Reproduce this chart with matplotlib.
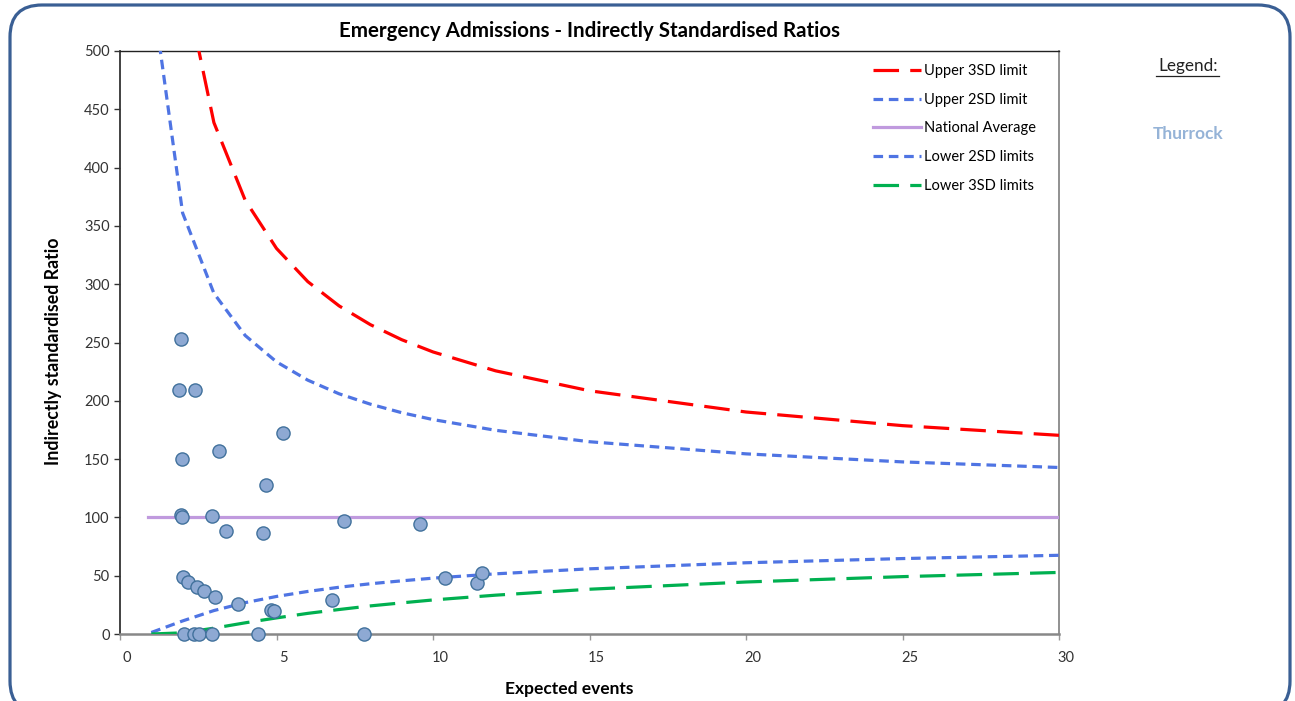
import matplotlib
matplotlib.use("Agg")
import matplotlib.pyplot as plt
import matplotlib.patches as mpatches
from matplotlib.transforms import IdentityTransform, ScaledTranslation

plt.rcParams['font.family'] = ['Lato', 'DejaVu Sans']

# expected events at which the control limits were evaluated
limit_x = [1, 2, 3, 4, 5, 6, 7, 8, 9, 10, 12, 15, 20, 25, 30]
upper_3sd = [936.1, 566.9, 438.6, 372.0, 330.7, 302.2, 281.4, 265.3, 252.4, 241.9, 225.7, 208.6, 190.4, 178.7, 170.4]
upper_2sd = [556.4, 361.1, 292.2, 256.0, 233.4, 217.7, 206.0, 197.1, 189.8, 183.9, 174.7, 164.9, 154.5, 147.6, 142.8]
lower_2sd = [1.3, 11.2, 20.1, 26.9, 32.2, 36.5, 40.1, 43.1, 45.6, 47.9, 51.6, 55.9, 61.1, 64.7, 67.5]
lower_3sd = [0.0, 1.0, 5.0, 9.6, 13.8, 17.7, 21.0, 24.1, 26.7, 29.2, 33.3, 38.4, 44.6, 49.2, 52.8]
avg_x = [0.9, 30]
national_avg = [100, 100]

# areas: expected events vs indirectly standardised ratio
area_expected = [1.95, 1.90, 2.39, 5.21, 1.98, 3.17, 4.67, 1.94, 1.98, 2.95, 3.38, 4.56,
                 7.16, 9.57, 2.00, 2.18, 2.45, 2.68, 3.05, 3.76, 4.81, 4.92, 6.77,
                 10.39, 11.41, 11.58, 2.05, 2.37, 2.52, 2.95, 4.40, 7.80]
area_ratio = [253, 209, 209, 172, 150, 157, 128, 102, 100, 101, 88, 87,
              97, 94, 49, 45, 40, 37, 32, 26, 21, 20, 29,
              48, 44, 52, 0, 0, 0, 0, 0, 0]

fig = plt.figure(figsize=(12.95, 7.01), dpi=100)
ax = fig.add_axes([120 / 1295, 1 - 634 / 701, 939 / 1295, 583 / 701])

ax.plot(limit_x, upper_3sd, color='#FF0000', lw=2.3, dashes=(8, 3.5), label='Upper 3SD limit', zorder=3)
ax.plot(limit_x, upper_2sd, color='#4F74E3', lw=2.3, dashes=(3, 1.8), label='Upper 2SD limit', zorder=3)
ax.plot(avg_x, national_avg, color='#C09ADE', lw=2.3, label='National Average', zorder=3)
ax.plot(limit_x, lower_2sd, color='#4F74E3', lw=2.3, dashes=(3, 1.8), label='Lower 2SD limits', zorder=3)
ax.plot(limit_x, lower_3sd, color='#00B050', lw=2.3, dashes=(8, 3.5), label='Lower 3SD limits', zorder=3)
ax.scatter(area_expected, area_ratio, s=90, color='#8EA9D3', edgecolor='#41719C',
           linewidth=1, zorder=4, clip_on=False)

ax.set_xlim(0, 30)
ax.set_ylim(0, 500)
ax.set_xticks(range(0, 31, 5))
ax.set_yticks(range(0, 501, 50))
ax.tick_params(axis='both', labelsize=10.5, colors='#333333', length=4, width=1)
ax.tick_params(axis='x', pad=8, color='#999999')
# Excel draws the x labels a little to the right of their ticks
shift = ScaledTranslation(0.07, 0, fig.dpi_scale_trans)
for lab in ax.get_xticklabels():
    lab.set_transform(lab.get_transform() + shift)

ax.spines['left'].set_color('#333333')
ax.spines['left'].set_linewidth(1.3)
ax.spines['top'].set_color('#222222')
ax.spines['top'].set_linewidth(1)
ax.spines['right'].set_color('#888888')
ax.spines['right'].set_linewidth(1.3)
ax.spines['bottom'].set_color('#888888')
ax.spines['bottom'].set_linewidth(1.8)

ax.set_xlabel('Expected events', fontsize=12.5, fontweight='bold')
ax.xaxis.set_label_coords(0.478, -0.08)
ax.set_ylabel('Indirectly standardised Ratio', fontsize=12.8, fontweight='bold')
ax.yaxis.set_label_coords(-0.062, 0.485)
ax.set_title('Emergency Admissions - Indirectly Standardised Ratios', fontsize=14.8,
             fontweight='bold', pad=10)

ax.legend(loc='upper left', bbox_to_anchor=(866 / 1295, 1 - 57 / 701),
          bbox_transform=fig.transFigure, frameon=False, fontsize=10.5,
          handlelength=3.3, handletextpad=0.15, labelspacing=1.0, borderpad=0)

fig.text(1188 / 1295, 1 - 66 / 701, 'Legend:', fontsize=12.3, ha='center', va='center',
         color='#222222')
fig.add_artist(plt.Line2D([1156 / 1295, 1219 / 1295], [1 - 76 / 701, 1 - 76 / 701],
                          color='#222222', lw=0.9))
fig.text(1188 / 1295, 1 - 134 / 701, 'Thurrock', fontsize=12.5, fontweight='bold',
         ha='center', va='center', color='#95B3D7')

frame = mpatches.FancyBboxPatch((10, -12), 1280, 708, boxstyle='round,pad=0,rounding_size=32',
                                transform=IdentityTransform(), facecolor='none',
                                edgecolor='#3A5F94', lw=2.3)
fig.add_artist(frame)

fig.savefig('out.png', dpi=100)
